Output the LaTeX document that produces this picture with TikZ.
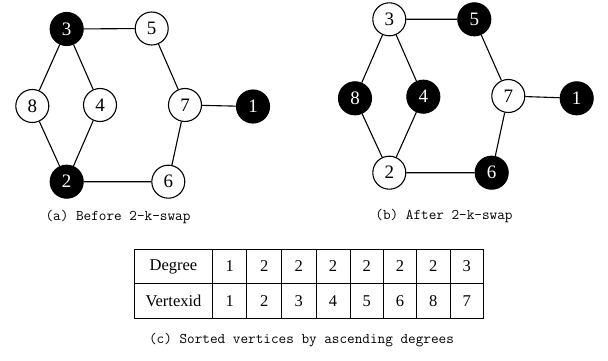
\documentclass[tikz,border=0pt]{standalone}
\usepackage{fontspec}
\setmainfont{Liberation Serif}
\begin{document}
\begin{tikzpicture}[x=1pt,y=-1pt,
  vtx/.style={circle,draw=black,line width=1.1pt,minimum size=33pt,inner sep=0pt,font=\fontsize{19}{19}\selectfont},
  wv/.style={vtx,fill=white,text=black},
  bv/.style={vtx,fill=black,text=white},
  edge/.style={line width=1.1pt},
  captext/.style={font=\ttfamily\fontsize{14.8}{14.8}\selectfont},
  cell/.style={font=\fontsize{16.5}{16.5}\selectfont}]
\useasboundingbox (0,0) rectangle (608,361);
% (a)
\node[bv] (a3) at (66.7,29) {3};
\node[wv] (a5) at (151.7,28.5) {5};
\node[wv] (a8) at (32.3,106) {8};
\node[wv] (a4) at (100,105) {4};
\node[wv] (a7) at (185,105) {7};
\node[bv] (a1) at (253,106.5) {1};
\node[bv] (a2) at (66.7,181.7) {2};
\node[wv] (a6) at (168.3,181.7) {6};
\draw[edge] (a3)--(a5) (a3)--(a8) (a3)--(a4) (a8)--(a2) (a4)--(a2) (a2)--(a6) (a5)--(a7) (a7)--(a6) (a7)--(a1);
\node[captext] (capa) at (118,217) {(a) Before 2-k-swap};
% (b)
\node[wv] (b3) at (389.3,19.3) {3};
\node[bv] (b5) at (474.3,19.3) {5};
\node[bv] (b8) at (355,98.3) {8};
\node[bv] (b4) at (423.3,96.7) {4};
\node[wv] (b7) at (508.3,96) {7};
\node[bv] (b1) at (576.7,98.3) {1};
\node[wv] (b2) at (389.3,172.7) {2};
\node[bv] (b6) at (491.7,172.7) {6};
\draw[edge] (b3)--(b5) (b3)--(b8) (b3)--(b4) (b8)--(b2) (b4)--(b2) (b2)--(b6) (b5)--(b7) (b7)--(b6) (b7)--(b1);
\node[captext] (capb) at (444,216.5) {(b) After 2-k-swap};
% (c) table
\draw[line width=0.9pt] (134.3,249.3) rectangle (483.3,318.3);
\draw[line width=0.9pt] (134.3,283.8) -- (483.3,283.8);
\foreach \x in {212.7,246.7,281.7,316,350,383.3,416.7,450}
  \draw[line width=0.9pt] (\x,249.3) -- (\x,318.3);
\node[cell] (h1) at (173.5,266.5) {Degree};
\node[cell] (h2) at (173.5,301) {Vertexid};
\foreach \cx/\d/\v [count=\i] in {229.7/1/1,264.2/2/2,298.8/2/3,333/2/4,366.7/2/5,400/2/6,433.3/2/8,466.7/3/7}{
  \node[cell] (d\i) at (\cx,266.5) {\d};
  \node[cell] (v\i) at (\cx,301) {\v};
}
\node[captext] (capc) at (301.5,340) {(c) Sorted vertices by ascending degrees};
\end{tikzpicture}
\end{document}
